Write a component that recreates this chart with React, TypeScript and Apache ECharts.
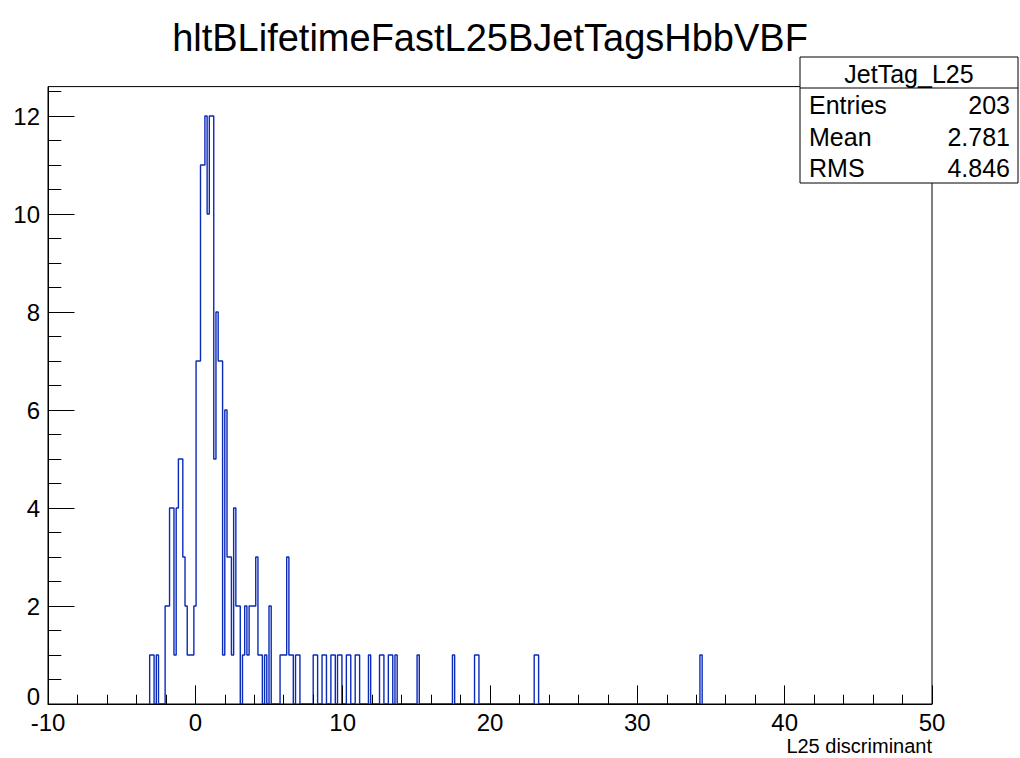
import React, { useEffect, useRef } from "react";
import * as echarts from "echarts";

// Histogram binning (uniform bins over the x range)
const X_MIN = -10;
const X_MAX = 50;
const BIN_WIDTH = 0.15;

// Non-empty bins: bin index and count
const binIndex = [
  46, 47, 49, 53, 54, 55, 56, 57, 58, 59, 60, 61, 62, 63, 64, 65, 66, 67, 68, 69,
  70, 71, 72, 73, 74, 75, 76, 77, 78, 79, 80, 81, 82, 83, 84, 85, 86, 88, 89, 90,
  91, 92, 93, 94, 95, 96, 98, 100, 105, 106, 107, 108, 109, 110, 112, 113, 120, 121,
  124, 125, 128, 129, 131, 132, 135, 136, 139, 140, 145, 150, 151, 154, 155, 157,
  167, 183, 193, 194, 220, 221, 295,
];
const binCount = [
  1, 1, 1, 2, 2, 4, 4, 1, 4, 5, 5, 3, 2, 1, 1, 1, 2, 7, 7, 11,
  11, 12, 10, 12, 12, 5, 8, 7, 7, 1, 6, 3, 3, 1, 4, 2, 2, 1, 2, 1,
  2, 2, 2, 3, 1, 1, 1, 2, 1, 1, 1, 3, 1, 1, 1, 1, 1, 1,
  1, 1, 1, 1, 1, 1, 1, 1, 1, 1, 1, 1, 1, 1, 1, 1,
  1, 1, 1, 1, 1, 1, 1,
];

// Axis ticks / labels
const yMajorTicks = [0, 2, 4, 6, 8, 10, 12];
const yMinorTicks = [0.5, 1, 1.5, 2.5, 3, 3.5, 4.5, 5, 5.5, 6.5, 7, 7.5, 8.5, 9, 9.5, 10.5, 11, 11.5, 12.5];
const Y_MAX = 12.6;

// Texts
const titleText = "hltBLifetimeFastL25BJetTagsHbbVBF";
const xAxisTitle = "L25 discriminant";
const statsTitle = "JetTag_L25";
const statsLabels = ["Entries", "Mean", "RMS"];
const statsValues = ["203", "2.781", "4.846"];

const FONT = "'Liberation Sans', Arial, Helvetica, sans-serif";

function buildOutline(): number[][] {
  const nBins = Math.round((X_MAX - X_MIN) / BIN_WIDTH);
  const counts = new Array(nBins).fill(0);
  binIndex.forEach((b, k) => {
    counts[b] = binCount[k];
  });
  const first = Math.min(...binIndex);
  const last = Math.max(...binIndex);
  const edge = (i: number) => +(X_MIN + i * BIN_WIDTH).toFixed(4);
  const pts: number[][] = [[edge(first), 0]];
  for (let i = first; i <= last; i++) {
    pts.push([edge(i), counts[i]]);
    pts.push([edge(i + 1), counts[i]]);
  }
  pts.push([edge(last + 1), 0]);
  return pts;
}

export default function App() {
  const ref = useRef<HTMLDivElement>(null);

  useEffect(() => {
    if (!ref.current) return;
    const chart = echarts.init(ref.current, undefined, { renderer: "svg" });

    const boxX = 800;
    const boxY = 57;
    const boxW = 218;
    const boxH = 126;
    const headH = 31;
    const rowH = (boxH - headH) / 3;
    const statsFont = 25;

    const statsGraphics: any[] = [
      {
        type: "rect",
        shape: { x: boxX, y: boxY, width: boxW, height: boxH },
        style: { fill: "#fff", stroke: "#000", lineWidth: 1 },
        z: 100,
      },
      {
        type: "line",
        shape: { x1: boxX, y1: boxY + headH, x2: boxX + boxW, y2: boxY + headH },
        style: { stroke: "#000", lineWidth: 1 },
        z: 101,
      },
      {
        type: "text",
        x: boxX + boxW / 2,
        y: boxY + headH / 2 + 1,
        style: {
          text: statsTitle,
          fontSize: statsFont,
          fontFamily: FONT,
          fill: "#000",
          align: "center",
          verticalAlign: "middle",
        },
        z: 102,
      },
    ];
    statsLabels.forEach((lab, i) => {
      const cy = boxY + headH + rowH * i + rowH / 2 + 1;
      statsGraphics.push({
        type: "text",
        x: boxX + 9,
        y: cy,
        style: { text: lab, fontSize: statsFont, fontFamily: FONT, fill: "#000", align: "left", verticalAlign: "middle" },
        z: 102,
      });
      statsGraphics.push({
        type: "text",
        x: boxX + boxW - 8,
        y: cy,
        style: { text: statsValues[i], fontSize: statsFont, fontFamily: FONT, fill: "#000", align: "right", verticalAlign: "middle" },
        z: 102,
      });
    });

    const option: any = {
      animation: false,
      backgroundColor: "#fff",
      textStyle: { fontFamily: FONT },
      grid: {
        left: 48,
        right: 88,
        top: 86.6,
        bottom: 54,
        show: true,
        borderColor: "#000",
        borderWidth: 1,
        backgroundColor: "transparent",
        outerBoundsMode: "none",
      },
      xAxis: {
        type: "value",
        min: X_MIN,
        max: X_MAX,
        interval: 10,
        z: 5,
        axisLine: { show: true, onZero: false, lineStyle: { color: "#000", width: 1 } },
        axisTick: { show: true, inside: true, length: 18.6, lineStyle: { color: "#000", width: 1 } },
        minorTick: { show: true, splitNumber: 5, length: 9.3, lineStyle: { color: "#000", width: 1 } },
        axisLabel: { fontSize: 24, color: "#000", margin: 6, fontFamily: FONT },
        splitLine: { show: false },
        minorSplitLine: { show: false },
      },
      yAxis: [
        {
          type: "value",
          min: 0,
          max: Y_MAX,
          position: "left",
          z: 5,
          axisLine: { show: true, onZero: false, lineStyle: { color: "#000", width: 1 } },
          axisTick: {
            show: true,
            inside: true,
            length: 26.5,
            customValues: yMajorTicks,
            lineStyle: { color: "#000", width: 1 },
          },
          axisLabel: {
            fontSize: 24,
            color: "#000",
            margin: 8,
            fontFamily: FONT,
            customValues: yMajorTicks,
            formatter: (v: number) => (v === 0 ? "{z|0}" : String(v)),
            rich: { z: { fontSize: 24, fontFamily: FONT, color: "#000", padding: [0, 0, 16, 0] } },
          },
          splitLine: { show: false },
        },
        {
          type: "value",
          min: 0,
          max: Y_MAX,
          position: "left",
          z: 5,
          axisLine: { show: false, onZero: false },
          axisTick: {
            show: true,
            inside: true,
            length: 13.3,
            customValues: yMinorTicks,
            lineStyle: { color: "#000", width: 1 },
          },
          axisLabel: { show: false },
          splitLine: { show: false },
        },
      ],
      series: [
        {
          type: "line",
          data: buildOutline(),
          xAxisIndex: 0,
          yAxisIndex: 0,
          symbol: "none",
          showSymbol: false,
          smooth: false,
          lineStyle: { color: "#0a2ab8", width: 1.4 },
          z: 2,
        },
      ],
      graphic: [
        {
          type: "text",
          x: 490,
          y: 38,
          style: {
            text: titleText,
            fontSize: 38,
            fontFamily: FONT,
            fill: "#000",
            align: "center",
            verticalAlign: "middle",
          },
        },
        {
          type: "text",
          x: 932,
          y: 756,
          style: {
            text: xAxisTitle,
            fontSize: 20,
            fontFamily: FONT,
            fill: "#000",
            align: "right",
            verticalAlign: "bottom",
          },
        },
        ...statsGraphics,
      ],
    };

    chart.setOption(option);
    return () => {
      chart.dispose();
    };
  }, []);

  return (
    <div
      ref={ref}
      style={{ position: "fixed", left: 0, top: 0, width: 1020, height: 758, background: "#fff" }}
    />
  );
}
